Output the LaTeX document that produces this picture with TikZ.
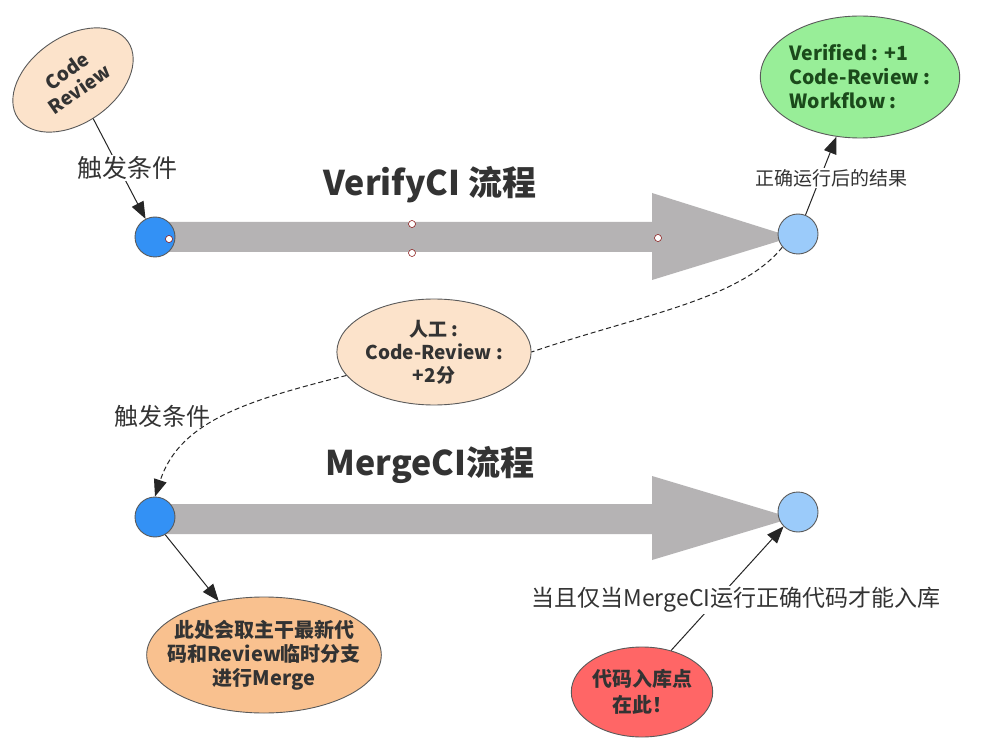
\documentclass[tikz,border=0pt]{standalone}
\usepackage{fontspec}
\setmainfont{Noto Sans CJK SC}
\usetikzlibrary{arrows.meta,shapes.geometric}
\definecolor{txt}{HTML}{333333}
\definecolor{peach}{HTML}{FCE3CB}
\definecolor{orng}{HTML}{F9C18F}
\definecolor{grn}{HTML}{98EE98}
\definecolor{redd}{HTML}{FF6666}
\definecolor{dblue}{HTML}{3391F5}
\definecolor{lblue}{HTML}{9BCBFA}
\definecolor{bar}{HTML}{B5B3B4}
\definecolor{edge}{HTML}{5A5A5A}
\definecolor{dgreen}{HTML}{1B4A1B}
\tikzset{
  bubble/.style={ellipse,draw=edge,line width=0.9pt,inner sep=0pt,align=center,text=txt},
  dot/.style={circle,draw=edge,line width=0.9pt,minimum size=40pt,inner sep=0pt},
  handle/.style={circle,draw=black!50!red,fill=white,line width=0.5pt,minimum size=7pt,inner sep=0pt},
  conn/.style={line width=1pt,draw=black!85,-{Triangle[length=17pt,width=13pt]}},
  dconn/.style={line width=1pt,draw=black!85,dashed,dash pattern=on 5pt off 3pt},
  lbl/.style={fill=white,inner sep=1pt,text=txt},
  ttl/.style={text=txt,font=\bfseries\fontsize{34}{38}\selectfont},
  flow/.style={fill=bar,draw=none}
}
\begin{document}
\begin{tikzpicture}[x=1pt,y=-1pt]
\useasboundingbox (0,0) rectangle (988,743);
\fill[white] (0,0) rectangle (988,743);

% flow arrows
\fill[flow] (155,222) -- (652,222) -- (652,193) -- (792,237) -- (652,280) -- (652,252) -- (155,252) -- cycle;
\fill[flow] (155,504) -- (652,504) -- (652,476) -- (792,518) -- (652,560) -- (652,534) -- (155,534) -- cycle;

% circles
\node[dot,fill=dblue] (v1) at (155,237) {};
\node[dot,fill=lblue] (v2) at (798,234) {};
\node[dot,fill=dblue] (m1) at (155,517) {};
\node[dot,fill=lblue] (m2) at (798,512) {};

% selection handles
\node[handle] (h1) at (169,239) {};
\node[handle] (h2) at (412,224) {};
\node[handle] (h3) at (412,253) {};
\node[handle] (h4) at (658,238) {};

% titles
\node[ttl] (t1) at (430,185) {VerifyCI 流程};
\node[ttl] (t2) at (430,465) {MergeCI流程};

% ellipses
\node[bubble,fill=peach,minimum width=134pt,minimum height=86pt,rotate=35,font=\bfseries\fontsize{19}{22}\selectfont] (cr) at (73,80) {Code\\Review};
\node[bubble,fill=grn,minimum width=190pt,minimum height=122pt,align=left,text=dgreen,font=\bfseries\fontsize{19.5}{24}\selectfont] (res) at (860,77) {Verified : +1\\Code-Review :\\Workflow :};
\node[bubble,fill=peach,minimum width=188pt,minimum height=106pt,font=\bfseries\fontsize{19}{23}\selectfont] (man) at (434,352) {人工 :\\Code-Review :\\+2分};
\node[bubble,fill=orng,inner xsep=-14pt,inner ysep=-6pt,minimum width=226pt,minimum height=116pt,font=\bfseries\fontsize{20}{24}\selectfont] (mrg) at (264,655) {此处会取主干最新代\\码和Review临时分支\\进行Merge};
\node[bubble,fill=redd,minimum width=140pt,minimum height=90pt,font=\bfseries\fontsize{20}{26}\selectfont] (pt) at (642,692) {代码入库点\\在此！};

% connectors
\draw[conn] (cr) -- (v1);
\node[lbl,font=\fontsize{25}{27}\selectfont] (l1) at (127,168) {触发条件};

\draw[conn] (v2) -- (res);
\node[lbl,font=\fontsize{19}{21}\selectfont] (l2) at (831,178) {正确运行后的结果};

\draw[dconn] (v2.220) .. controls (740,300) and (640,315) .. (man.east);
\draw[dconn,-{Triangle[length=17pt,width=13pt]}] (man.195) .. controls (250,400) and (180,420) .. (m1.north);
\node[text=txt,font=\fontsize{24}{26}\selectfont] (l3) at (162,416) {触发条件};

\draw[conn] (m1.300) -- (mrg.130);

\draw[conn] (pt.55) -- (m2.225);
\node[lbl,font=\fontsize{23}{25}\selectfont] (l4) at (736,600) {当且仅当MergeCI运行正确代码才能入库};
\end{tikzpicture}
\end{document}
